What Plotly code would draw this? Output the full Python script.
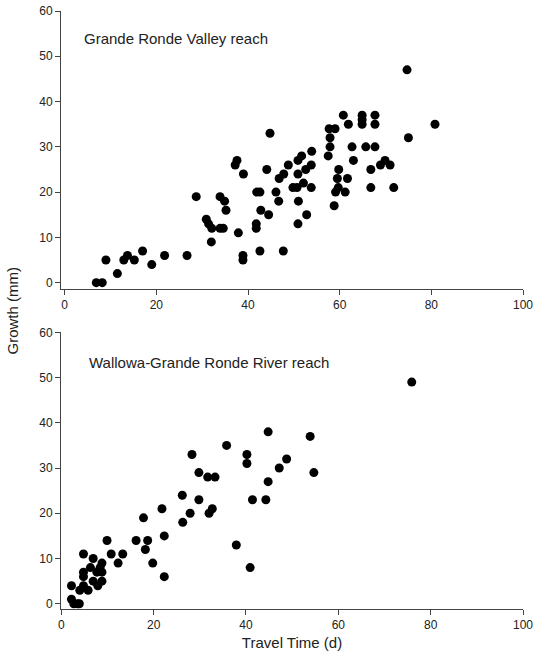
import plotly.graph_objects as go
from plotly.subplots import make_subplots

# Grande Ronde Valley reach
grv_time = [6.9, 8.2, 9.0, 11.5, 12.9, 13.7, 15.2, 17.0, 19.0, 21.8, 26.7, 28.7,
            30.9, 31.4, 32.1, 32.0, 33.9, 34.9, 35.2, 33.9, 34.6, 37.2, 37.6, 39.0,
            37.9, 38.9, 38.9, 41.9, 42.6, 42.8, 41.8, 41.8, 42.6, 44.8, 44.1, 44.5,
            46.1, 46.7, 46.8, 47.8, 47.7, 48.8, 49.8, 50.7, 52.1, 50.9, 51.7, 50.9,
            51.0, 50.9, 52.8, 52.6, 53.8, 53.9, 53.8, 57.5, 57.9, 57.9, 57.7, 59.0,
            58.8, 59.1, 59.7, 59.5, 59.8, 61.2, 61.7, 60.8, 61.9, 62.7, 63.0, 64.9,
            64.9, 64.9, 65.7, 66.8, 66.8, 67.7, 67.7, 67.7, 68.9, 69.9, 71.0, 71.8,
            74.7, 75.0, 80.8]
grv_growth = [0, 0, 5, 2, 5, 6, 5, 7, 4, 6, 6, 19,
              14, 13, 12, 9, 19, 18, 16, 12, 12, 26, 27, 24,
              11, 6, 5, 20, 20, 16, 13, 12, 7, 33, 25, 15,
              20, 18, 23, 24, 7, 26, 21, 21, 22, 27, 28, 24,
              18, 13, 15, 25, 26, 29, 21, 28, 30, 32, 34, 34,
              17, 20, 21, 23, 25, 20, 23, 37, 35, 30, 27, 37,
              36, 35, 30, 25, 21, 37, 35, 30, 26, 27, 26, 21,
              47, 32, 35]

# Wallowa-Grande Ronde River reach
wgr_time = [2.2, 2.2, 2.7, 3.5, 3.9, 4.8, 4.0, 5.8, 4.8, 4.8, 4.8, 6.3,
            6.9, 6.9, 7.9, 7.7, 8.4, 8.8, 8.8, 8.8, 9.9, 10.8, 12.3, 13.3,
            16.2, 17.8, 18.2, 18.7, 19.8, 21.8, 22.3, 22.3, 26.2, 26.3, 27.9, 28.3,
            29.8, 29.8, 31.7, 33.3, 32.0, 32.7, 35.8, 37.9, 40.2, 40.2, 40.9, 41.4,
            44.3, 44.8, 44.8, 47.2, 48.8, 53.9, 54.7, 75.9]
wgr_growth = [4, 1, 0, 0, 0, 4, 3, 3, 6, 7, 11, 8,
              10, 5, 4, 7, 8, 9, 7, 5, 14, 11, 9, 11,
              14, 19, 12, 14, 9, 21, 15, 6, 24, 18, 20, 33,
              29, 23, 28, 28, 20, 21, 35, 13, 33, 31, 8, 23,
              23, 38, 27, 30, 32, 37, 29, 49]

panel_titles = ["Grande Ronde Valley reach", "Wallowa-Grande Ronde River reach"]
x_title = "Travel Time (d)"
y_title = "Growth (mm)"

FONT = "Liberation Sans, Arial, sans-serif"

fig = make_subplots(rows=2, cols=1, vertical_spacing=0.07)

fig.add_trace(go.Scatter(x=grv_time, y=grv_growth, mode="markers",
                         marker=dict(color="black", size=9, line=dict(width=0)),
                         showlegend=False, hoverinfo="skip"), row=1, col=1)
fig.add_trace(go.Scatter(x=wgr_time, y=wgr_growth, mode="markers",
                         marker=dict(color="black", size=9, line=dict(width=0)),
                         showlegend=False, hoverinfo="skip"), row=2, col=1)

axis_common = dict(showgrid=False, zeroline=False, showline=True, linecolor="#444",
                   linewidth=1, ticks="outside", ticklen=5, tickcolor="#444",
                   tickwidth=1, automargin=False,
                   tickfont=dict(family=FONT, size=12, color="#222"))

fig.update_layout(
    width=535, height=662,
    margin=dict(l=61, r=12, t=11, b=53, autoexpand=False),
    plot_bgcolor="white", paper_bgcolor="white",
    xaxis=dict(domain=[0, 1], range=[-0.8, 100], tick0=0, dtick=20, anchor="y", **axis_common),
    yaxis=dict(domain=[0.5351, 1], range=[-1.4, 60], tick0=0, dtick=10, anchor="x", **axis_common),
    xaxis2=dict(domain=[0, 1], range=[-0.07, 100], tick0=0, dtick=20, anchor="y2",
                title=dict(text=x_title, font=dict(family=FONT, size=15, color="#222"), standoff=6),
                **axis_common),
    yaxis2=dict(domain=[0, 0.4627], range=[-1.15, 60], tick0=0, dtick=10, anchor="x2", **axis_common),
)

fig.add_annotation(text=panel_titles[0], xref="x domain", yref="y domain",
                   x=0.046, y=0.902, xanchor="left", yanchor="middle", showarrow=False,
                   font=dict(family=FONT, size=15, color="#222"))
fig.add_annotation(text=panel_titles[1], xref="x2 domain", yref="y2 domain",
                   x=0.056, y=0.892, xanchor="left", yanchor="middle", showarrow=False,
                   font=dict(family=FONT, size=15, color="#222"))
fig.add_annotation(text=y_title, xref="paper", yref="paper",
                   x=-0.105, y=0.5, xanchor="center", yanchor="middle", showarrow=False,
                   textangle=-90, font=dict(family=FONT, size=15, color="#222"))

fig.write_html("out.html",
               config={"displayModeBar": False},
               post_script="document.body.style.margin='0';document.body.style.overflow='hidden';")
